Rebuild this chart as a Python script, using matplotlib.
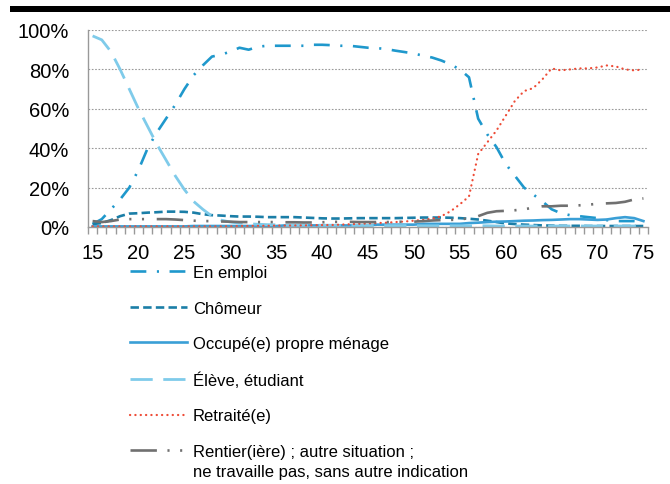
import matplotlib.pyplot as plt
from matplotlib.patches import Rectangle

plt.rcParams['font.family'] = ['Liberation Sans', 'DejaVu Sans']

# ages 15..75
ages = list(range(15, 76))

en_emploi = [1.5, 4, 9, 14, 20, 29, 40, 48, 55, 62, 70, 77, 82, 86.5, 87.5, 89,
             91, 90, 91.5, 92, 92, 92, 92, 92, 92.5, 92.5, 92.3, 92, 92, 91.5,
             91, 90.8, 90.3, 89.5, 88.8, 88, 87, 86, 84.5, 82.5, 80, 76, 55, 47,
             40.5, 32, 26, 20, 16.5, 13, 9, 7, 6, 5.5, 5, 4.5, 3.5, 3, 3, 3, 2.8]

chomeur = [1.5, 2, 3.5, 5.5, 6.8, 7, 7.3, 7.5, 7.8, 7.8, 7.7, 7.3, 6.5, 6, 5.8,
           5.5, 5.3, 5.3, 5.2, 5, 5, 5, 5, 4.8, 4.6, 4.4, 4.3, 4.3, 4.4, 4.5,
           4.5, 4.5, 4.5, 4.5, 4.6, 4.7, 4.8, 4.8, 4.8, 4.7, 4.5, 4.2, 3.8, 3.2,
           2.5, 1.8, 1.5, 1.2, 1, 0.8, 0.7, 0.6, 0.6, 0.6, 0.5, 0.5, 0.5, 0.5,
           0.5, 0.5, 0.5]

menage = [0.3, 0.3, 0.3, 0.3, 0.3, 0.3, 0.3, 0.3, 0.3, 0.3, 0.3, 0.5, 0.5, 0.5,
          0.5, 0.5, 0.5, 0.5, 0.5, 0.5, 0.5, 0.8, 0.8, 0.8, 0.8, 0.8, 0.8, 0.8,
          0.8, 0.8, 0.8, 1.2, 1.2, 1.2, 1.2, 1.2, 1.6, 1.6, 1.6, 1.6, 1.6, 2,
          2.2, 2.5, 2.7, 2.8, 3, 3.2, 3.3, 3.5, 3.6, 3.8, 4, 4, 3.8, 3.6, 3.8,
          4.5, 5, 4.5, 3]

eleve = [97, 95, 89, 80, 70, 60, 51, 42, 34, 26, 19, 13, 9, 5.5, 3.5, 2.5, 2,
         1.6, 1.4, 1.2, 1.1, 1, 1, 1, 0.9, 0.9, 0.9, 0.8, 0.8, 0.8, 0.8, 0.7,
         0.7, 0.7, 0.7, 0.7, 0.6, 0.6, 0.6, 0.6, 0.6, 0.6, 0.6, 0.6, 0.5, 0.5,
         0.5, 0.5, 0.5, 0.5, 0.5, 0.5, 0.5, 0.5, 0.5, 0.5, 0.5, 0.5, 0.5, 0.5,
         0.5]

retraite = [0.3, 0.3, 0.3, 0.3, 0.3, 0.3, 0.3, 0.3, 0.3, 0.3, 0.3, 0.3, 0.3,
            0.3, 0.3, 0.3, 0.5, 0.5, 0.6, 0.6, 0.7, 0.7, 0.8, 0.8, 0.9, 1, 1,
            1.2, 1.4, 1.6, 1.8, 2, 2.2, 2.5, 2.8, 3.2, 3.6, 4.2, 5.5, 8, 11.5,
            15.5, 37, 43, 49, 56.5, 64, 69, 70.5, 75, 80.5, 79.5, 80, 80.5, 80.5,
            81, 82, 81.5, 80, 79.5, 80]

rentier = [3, 2.5, 3, 3.8, 4, 4, 4, 4, 4, 3.8, 3.5, 3.2, 3, 3, 2.8, 2.7, 2.5,
           2.5, 2.5, 2.5, 2.5, 2.4, 2.4, 2.3, 2.3, 2.4, 2.6, 2.6, 2.6, 2.5, 2.5,
           2.5, 2.5, 2.6, 2.7, 2.7, 3, 3.3, 3.5, 3.6, 3.8, 4.5, 5.5, 7.2, 8, 8.2,
           8.5, 9, 9.8, 10.5, 10.5, 10.8, 10.8, 11, 11.3, 11.8, 12, 12.2, 12.8,
           14, 14.5]

labels = ["En emploi", "Chômeur", "Occupé(e) propre ménage", "Élève, étudiant",
          "Retraité(e)", "Rentier(ière) ; autre situation ;"]
label_extra = "ne travaille pas, sans autre indication"

fig = plt.figure(figsize=(6.7, 4.85), dpi=100)
fig.add_artist(Rectangle((10 / 670, 1 - 13 / 485), 660 / 670, 6 / 485,
                         transform=fig.transFigure, color='black', lw=0))

ax = fig.add_axes([88 / 670, 1 - 228 / 485, 560 / 670, 197 / 485])

ax.plot(ages, en_emploi, color='#1f98cc', lw=1.9, dashes=(6, 4, 0.8, 4),
        label=labels[0])
ax.plot(ages, chomeur, color='#1b7ea7', lw=1.9, dashes=(3.2, 1.6),
        label=labels[1])
ax.plot(ages, menage, color='#3a9fd6', lw=1.9, label=labels[2])
ax.plot(ages, eleve, color='#7fcbea', lw=2.0, dashes=(8, 3.8), label=labels[3])
ax.plot(ages, retraite, color='#ee4b36', lw=1.6, dashes=(0.1, 2.3),
        dash_capstyle='round', label=labels[4])
ax.plot(ages, rentier, color='#707070', lw=1.9,
        dashes=(10, 4, 0.8, 4, 0.8, 4.8), label=labels[5])

ax.set_xlim(14.5, 75.5)
ax.set_ylim(0, 100)
ax.set_xticks(range(15, 76, 5))
ax.set_xticks([a + 0.5 for a in range(14, 76)], minor=True)
ax.tick_params(axis='x', which='major', length=0, labelsize=14.5, pad=11.8)
ax.tick_params(axis='x', which='minor', length=5, color='#999999', width=1)
ax.set_yticks(range(0, 101, 20))
ax.set_yticklabels([f"{v}%" for v in range(0, 101, 20)])
ax.tick_params(axis='y', length=0, labelsize=14.5, pad=13.5)
ax.grid(axis='y', linestyle=(0, (1.5, 1.5)), color='#999999', lw=0.8)
ax.set_axisbelow(True)
for side in ['top', 'right']:
    ax.spines[side].set_visible(False)
for side in ['left', 'bottom']:
    ax.spines[side].set_color('#999999')
    ax.spines[side].set_linewidth(1)

leg = fig.legend(loc='upper left', bbox_to_anchor=(130 / 670, 1 - 266 / 485),
                 frameon=False, fontsize=12, handlelength=3.4,
                 handletextpad=0.36, labelspacing=1.23, borderpad=0,
                 borderaxespad=0)

# second line of the last legend label, placed right under the first line
fig.canvas.draw()
last = leg.get_texts()[-1].get_window_extent()
fig.text(last.x0 / fig.bbox.width, (last.y0 - 5) / fig.bbox.height,
         label_extra, fontsize=12, ha='left', va='top')

fig.savefig('out.png', dpi=100)
